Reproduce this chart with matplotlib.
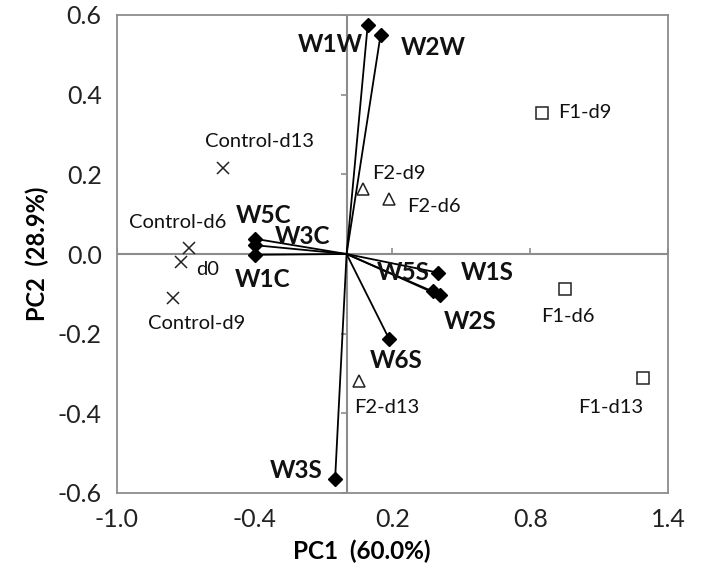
import matplotlib
matplotlib.use("Agg")
import matplotlib.pyplot as plt
from matplotlib.lines import TICKUP, TICKLEFT

plt.rcParams['font.family'] = ['Lato', 'DejaVu Sans']

# loadings (variables, drawn as arrows from origin)
var_names = ['W1W', 'W2W', 'W5C', 'W3C', 'W1C', 'W1S', 'W5S', 'W2S', 'W6S', 'W3S']
var_x = [0.092, 0.148, -0.397, -0.397, -0.397, 0.40, 0.375, 0.405, 0.185, -0.05]
var_y = [0.575, 0.55, 0.038, 0.022, -0.002, -0.047, -0.094, -0.104, -0.213, -0.565]
var_offset = [(-5, -20, 'right'), (20, -13, 'left'), (8, 23, 'center'), (19, 9, 'left'),
              (7, -25, 'center'), (22, 0, 'left'), (-3, 19, 'right'), (4, -26, 'left'),
              (7, -22, 'center'), (-13, 9, 'right')]

# scores
control_names = ['Control-d13', 'Control-d6', 'd0', 'Control-d9']
control_x = [-0.537, -0.686, -0.72, -0.755]
control_y = [0.216, 0.014, -0.021, -0.11]
control_offset = [(36, 26, 'center'), (-11, 26, 'center'), (15, -7, 'left'), (23, -26, 'center')]

f2_names = ['F2-d9', 'F2-d6', 'F2-d13']
f2_x = [0.071, 0.185, 0.054]
f2_y = [0.162, 0.137, -0.32]
f2_offset = [(9, 16, 'left'), (18, -7, 'left'), (-5, -26, 'left')]

f1_names = ['F1-d9', 'F1-d6', 'F1-d13']
f1_x = [0.85, 0.95, 1.29]
f1_y = [0.354, -0.089, -0.311]
f1_offset = [(16, 0, 'left'), (3, -27, 'center'), (-32, -30, 'center')]

xticks = [-1.0, -0.4, 0.2, 0.8, 1.4]
yticks = [-0.6, -0.4, -0.2, 0.0, 0.2, 0.4, 0.6]

fig = plt.figure(figsize=(7.02, 5.74), dpi=100)
ax = fig.add_axes([117 / 702, 1 - 493 / 574, 551 / 702, 478 / 574])

gray = '#8c8c8c'
ax.axhline(0, color=gray, lw=1.5, zorder=1)
ax.axvline(0, color=gray, lw=1.5, zorder=1)
ax.plot(xticks, [0] * len(xticks), ls='none', marker=TICKUP, ms=4, mew=1.2, color=gray, zorder=1)
ax.plot([0] * len(yticks), yticks, ls='none', marker=TICKLEFT, ms=4, mew=1.2, color=gray, zorder=1)

px = 0.72  # pixel -> points at 100 dpi


def label(names, xs, ys, offsets, size, weight):
    for n, x, y, (dx, dy, ha) in zip(names, xs, ys, offsets):
        ax.annotate(n, (x, y), xytext=(dx * px, dy * px), textcoords='offset points',
                    ha=ha, va='center', fontsize=size, fontweight=weight, color='#111111')


for x, y in zip(var_x, var_y):
    ax.plot([0, x], [0, y], color='black', lw=1.3, zorder=2)
ax.plot(var_x, var_y, ls='none', marker='D', ms=7.5, color='black', zorder=3)
label(var_names, var_x, var_y, var_offset, 17.5, 'bold')

ax.plot(control_x, control_y, ls='none', marker='x', ms=9, mew=1.1, color='#222222', zorder=3)
label(control_names, control_x, control_y, control_offset, 14.5, 'normal')

ax.plot(f2_x, f2_y, ls='none', marker='^', ms=8, mfc='white', mec='#222222', mew=1.1, zorder=3)
label(f2_names, f2_x, f2_y, f2_offset, 14.5, 'normal')

ax.plot(f1_x, f1_y, ls='none', marker='s', ms=9, mfc='white', mec='#222222', mew=1.1, zorder=3)
label(f1_names, f1_x, f1_y, f1_offset, 14.5, 'normal')

ax.set_xlim(-1.0, 1.4)
ax.set_ylim(-0.6, 0.6)
ax.set_xticks(xticks)
ax.set_xticklabels(['%.1f' % t for t in xticks])
ax.set_yticks(yticks)
ax.set_yticklabels(['%.1f' % t for t in yticks])
ax.tick_params(length=0, labelsize=18, pad=11, colors='#222222')
for s in ax.spines.values():
    s.set_color(gray)
    s.set_linewidth(1.3)

ax.set_xlabel('PC1  (60.0%)', fontsize=17.5, fontweight='bold', labelpad=6)
ax.xaxis.label.set_x(0.445)
ax.set_ylabel('PC2  (28.9%)', fontsize=17, fontweight='bold', labelpad=6)

fig.savefig('out.png', dpi=100)
